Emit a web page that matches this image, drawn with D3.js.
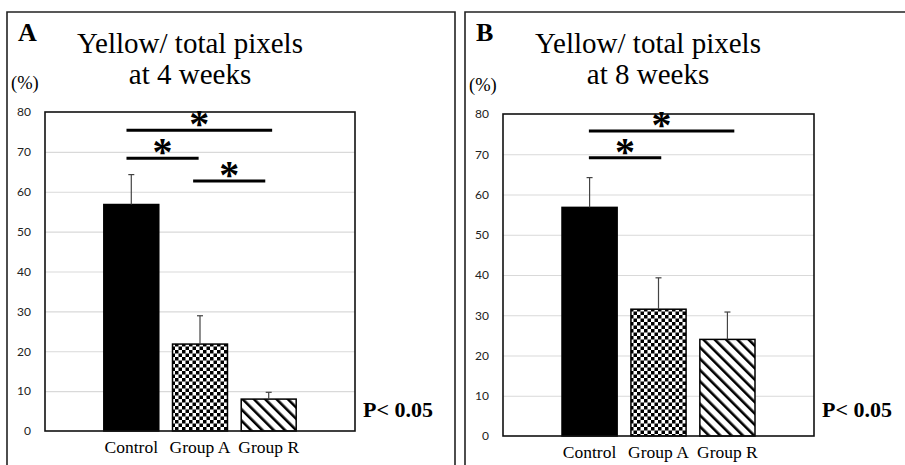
<!DOCTYPE html>
<html>
<head>
<meta charset="utf-8">
<script src="https://cdn.jsdelivr.net/npm/d3@7"></script>
<style>
  body { margin: 0; background: #fff; }
  svg { display: block; }
</style>
</head>
<body>
<svg id="chart" width="905" height="465"></svg>
<script>
// --- data ---
const categories = ["Control", "Group A", "Group R"];
const yTicks = [0, 10, 20, 30, 40, 50, 60, 70, 80];

// 4 weeks (panel A)
const mean4w = [56.8, 21.8, 8.0];
const sd4w = [7.5, 7.1, 1.7];
const sig4wFrom = [-0.07, -0.07, 0.9];   // in category-index units
const sig4wTo = [2.05, 0.98, 1.95];
const sig4wLevel = [75.4, 68.4, 62.7];

// 8 weeks (panel B)
const mean8w = [56.8, 31.5, 24.0];
const sd8w = [7.4, 7.8, 6.8];
const sig8wFrom = [-0.01, -0.01];
const sig8wTo = [2.1, 1.04];
const sig8wLevel = [75.8, 69.1];

const panelLetters = ["A", "B"];
const titleLine1 = "Yellow/ total pixels";
const titleLine2 = ["at 4 weeks", "at 8 weeks"];
const pText = "P< 0.05";
const unitText = "(%)";

const svg = d3.select("#chart");
const serif = "'Liberation Serif', 'Times New Roman', serif";

// fill patterns
const defs = svg.append("defs");
const checker = defs.append("pattern")
  .attr("id", "checker")
  .attr("patternUnits", "userSpaceOnUse")
  .attr("width", 7).attr("height", 7);
checker.append("rect").attr("width", 7).attr("height", 7).attr("fill", "#fff");
checker.append("rect").attr("width", 3.5).attr("height", 3.5).attr("fill", "#000");
checker.append("rect").attr("x", 3.5).attr("y", 3.5).attr("width", 3.5).attr("height", 3.5).attr("fill", "#000");

const stripes = defs.append("pattern")
  .attr("id", "stripes")
  .attr("patternUnits", "userSpaceOnUse")
  .attr("width", 8).attr("height", 8)
  .attr("patternTransform", "rotate(-45)");
stripes.append("rect").attr("width", 8).attr("height", 8).attr("fill", "#fff");
stripes.append("rect").attr("width", 2.6).attr("height", 8).attr("fill", "#000");

const fills = ["#000", "url(#checker)", "url(#stripes)"];

function drawPanel(p) {
  // outer frame
  svg.append("path")
    .attr("d", "M" + p.frameLeft + "," + 470 + "V" + 12 + "H" + p.frameRight + "V" + 470)
    .attr("fill", "none")
    .attr("stroke", "#222")
    .attr("stroke-width", 1.6);

  const x = d3.scaleBand()
    .domain(categories)
    .range([p.left, p.right])
    .paddingInner(0.2)
    .paddingOuter(0.856);

  const y = d3.scaleLinear()
    .domain([0, 80])
    .range([p.bottom, p.top]);

  // category index -> bar centre, used for the bracket ends
  const xi = d3.scaleLinear()
    .domain([0, categories.length - 1])
    .range([x(categories[0]) + x.bandwidth() / 2, x(categories[categories.length - 1]) + x.bandwidth() / 2]);

  // gridlines + tick labels
  const yAxis = svg.append("g")
    .attr("transform", "translate(" + p.left + ",0)")
    .call(d3.axisLeft(y).tickValues(yTicks).tickSize(-(p.right - p.left)).tickPadding(14));
  yAxis.select(".domain").remove();
  yAxis.selectAll(".tick line").attr("stroke", "#d9d9d9").attr("stroke-width", 1.2)
    .filter(d => d === 0 || d === 80).remove();
  yAxis.selectAll(".tick text")
    .attr("font-family", "Lato, 'Open Sans', sans-serif")
    .attr("font-size", 12)
    .attr("fill", "#222");

  // bars
  svg.append("g").selectAll("rect")
    .data(p.means)
    .join("rect")
    .attr("x", (d, i) => x(categories[i]))
    .attr("y", d => y(d))
    .attr("width", x.bandwidth())
    .attr("height", d => y(0) - y(d))
    .attr("fill", (d, i) => fills[i])
    .attr("stroke", "#000")
    .attr("stroke-width", 1.5);

  // error bars (upper only)
  const err = svg.append("g").attr("stroke", "#444").attr("stroke-width", 1.2);
  p.means.forEach((m, i) => {
    const cx = x(categories[i]) + x.bandwidth() / 2;
    err.append("line").attr("x1", cx).attr("x2", cx).attr("y1", y(m)).attr("y2", y(m + p.sds[i]));
    err.append("line").attr("x1", cx - 3).attr("x2", cx + 3).attr("y1", y(m + p.sds[i])).attr("y2", y(m + p.sds[i]));
  });

  // plot box
  svg.append("rect")
    .attr("x", p.left).attr("y", p.top)
    .attr("width", p.right - p.left).attr("height", p.bottom - p.top)
    .attr("fill", "none").attr("stroke", "#111").attr("stroke-width", 1.6);

  // significance brackets
  const sig = svg.append("g");
  p.sigLevel.forEach((lv, i) => {
    const x1 = xi(p.sigFrom[i]), x2 = xi(p.sigTo[i]);
    sig.append("line")
      .attr("x1", x1).attr("x2", x2)
      .attr("y1", y(lv)).attr("y2", y(lv))
      .attr("stroke", "#000").attr("stroke-width", 3);
    sig.append("text")
      .attr("x", (x1 + x2) / 2)
      .attr("y", y(lv) + 7)
      .attr("text-anchor", "middle")
      .attr("font-family", serif)
      .attr("font-weight", "bold")
      .attr("font-size", 40)
      .text("*");
  });

  // x labels
  svg.append("g").selectAll("text")
    .data(categories)
    .join("text")
    .attr("x", d => x(d) + x.bandwidth() / 2)
    .attr("y", p.bottom + 22)
    .attr("text-anchor", "middle")
    .attr("font-family", serif)
    .attr("font-size", 17.5)
    .text(d => d);

  // titles and labels
  svg.append("text")
    .attr("x", p.frameLeft + 11).attr("y", 41)
    .attr("font-family", serif)
    .attr("font-weight", "bold").attr("font-size", 26)
    .text(p.letter);
  svg.append("text")
    .attr("x", p.titleX).attr("y", 53)
    .attr("text-anchor", "middle")
    .attr("font-family", serif)
    .attr("font-size", 29)
    .text(titleLine1);
  svg.append("text")
    .attr("x", p.titleX).attr("y", 84)
    .attr("text-anchor", "middle")
    .attr("font-family", serif)
    .attr("font-size", 29)
    .text(p.title2);
  svg.append("text")
    .attr("x", p.frameLeft + 4).attr("y", p.top - 23)
    .attr("font-family", serif)
    .attr("font-size", 18.5)
    .text(unitText);
  svg.append("text")
    .attr("x", p.right + 8).attr("y", 417)
    .attr("font-family", serif)
    .attr("font-weight", "bold").attr("font-size", 22)
    .text(pText);
}

drawPanel({
  frameLeft: 7, frameRight: 455,
  left: 45, right: 355, top: 112, bottom: 431,
  titleX: 190,
  letter: panelLetters[0], title2: titleLine2[0],
  means: mean4w, sds: sd4w,
  sigFrom: sig4wFrom, sigTo: sig4wTo, sigLevel: sig4wLevel
});

drawPanel({
  frameLeft: 465, frameRight: 920,
  left: 503, right: 814, top: 114, bottom: 436,
  titleX: 648,
  letter: panelLetters[1], title2: titleLine2[1],
  means: mean8w, sds: sd8w,
  sigFrom: sig8wFrom, sigTo: sig8wTo, sigLevel: sig8wLevel
});
</script>
</body>
</html>
